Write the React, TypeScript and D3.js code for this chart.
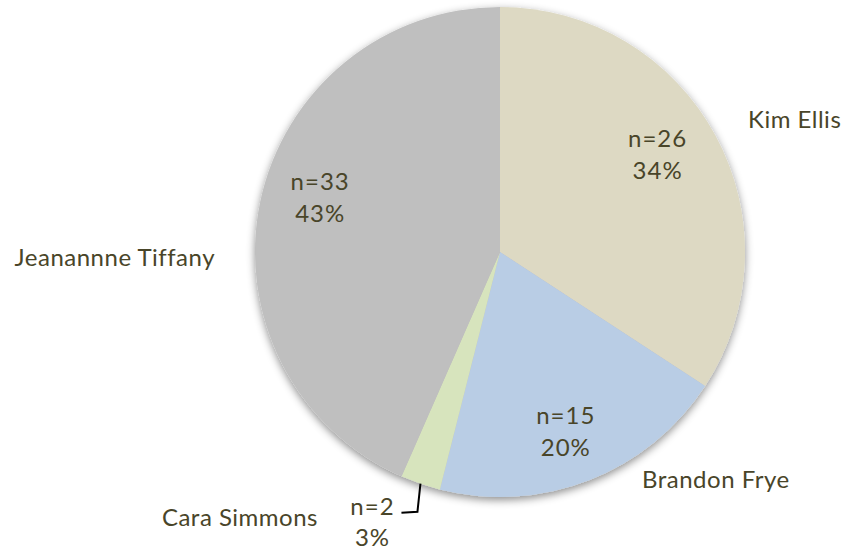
import React from "react";
import * as d3 from "d3";

const names = ["Kim Ellis", "Brandon Frye", "Cara Simmons", "Jeanannne Tiffany"];
const counts = [26, 15, 2, 33];
const percents = ["34%", "20%", "3%", "43%"];

const colors = ["#DDD9C3", "#B9CDE5", "#D7E4BD", "#BFBFBF"];
// name label offsets from pie centre [dx, dy, anchor]
const nameSpots: [number, number, string][] = [
  [248, -124, "start"],
  [142, 236, "start"],
  [-182, 274, "end"],
  [-285, 14, "end"],
];
// small nudges for the inside value labels
const valueNudge: [number, number][] = [
  [-4, -11],
  [-1, 7],
  [0, 0],
  [0, -18],
];

const W = 860;
const H = 554;
const cx = 500;
const cy = 252;
const R = 245;
const textColor = "#494529";
const font = "Lato, 'Open Sans', sans-serif";

export default function App() {
  const pie = d3.pie<number>().value((d) => d).sort(null);
  const slices = pie(counts);
  const arc = d3.arc<d3.PieArcDatum<number>>().innerRadius(0).outerRadius(R);
  const labelArc = d3
    .arc<d3.PieArcDatum<number>>()
    .innerRadius(R * 0.75)
    .outerRadius(R * 0.75);

  const label = (x: number, y: number, t: string) => (
    <text
      x={x}
      y={y}
      textAnchor="middle"
      dominantBaseline="central"
      fontFamily={font}
      fontSize={24}
      letterSpacing={1}
      fill={textColor}
    >
      {t}
    </text>
  );

  return (
    <svg
      width={W}
      height={H}
      style={{ position: "absolute", left: 0, top: 0, background: "#fff" }}
    >
      <defs>
        <filter id="shadow" x="-10%" y="-10%" width="120%" height="125%">
          <feDropShadow dx="0" dy="3" stdDeviation="4" floodColor="#000" floodOpacity="0.45" />
        </filter>
      </defs>
      <g transform={`translate(${cx},${cy})`}>
        <g filter="url(#shadow)">
          {slices.map((s, i) => (
            <path key={names[i]} d={arc(s) || ""} fill={colors[i]} />
          ))}
        </g>
        {slices.map((s, i) => {
          const small = s.endAngle - s.startAngle < 0.3;
          const mid = (s.startAngle + s.endAngle) / 2;
          if (small) {
            // outside label with leader line
            const px = R * Math.sin(mid);
            const py = -R * Math.cos(mid);
            const bx = px - 3;
            const by = py + 28;
            return (
              <g key={"lab" + i}>
                <path
                  d={`M${px},${py}L${bx},${by}L${bx - 16},${by + 1}`}
                  fill="none"
                  stroke="#000"
                  strokeWidth={2}
                />
                {label(bx - 45, by - 6, `n=${counts[i]}`)}
                {label(bx - 45, by + 25, percents[i])}
              </g>
            );
          }
          const [lx, ly] = labelArc.centroid(s);
          const x = lx + valueNudge[i][0];
          const y = ly + valueNudge[i][1];
          return (
            <g key={"lab" + i}>
              {label(x, y - 16, `n=${counts[i]}`)}
              {label(x, y + 16, percents[i])}
            </g>
          );
        })}
        {names.map((n, i) => (
          <text
            key={n}
            x={nameSpots[i][0]}
            y={nameSpots[i][1]}
            textAnchor={nameSpots[i][2]}
            fontFamily={font}
            fontSize={24}
            letterSpacing={0.5}
            fill={textColor}
          >
            {n}
          </text>
        ))}
      </g>
    </svg>
  );
}
